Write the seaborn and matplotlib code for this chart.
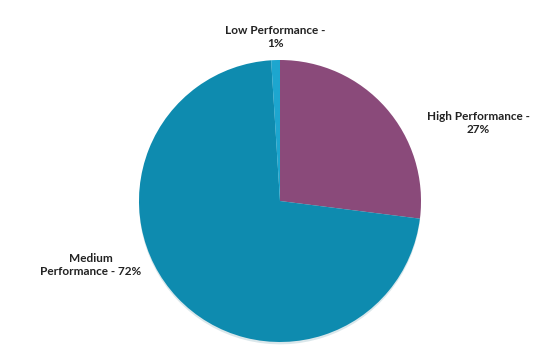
import matplotlib
matplotlib.use("Agg")
import matplotlib.pyplot as plt
import seaborn as sns

categories = ["High Performance", "Medium Performance", "Low Performance"]
values = [27, 72, 1]
label_texts = ["High Performance -\n27%", "Medium\nPerformance - 72%", "Low Performance -\n1%"]
colors = ["#8A4A7A", "#0E8BAF", "#1DA6CF"]

sns.set_theme(style="white")
plt.rcParams['font.family'] = ['Lato', 'DejaVu Sans']

fig = plt.figure(figsize=(5.5, 3.54), dpi=100)
ax = fig.add_axes([139/550, 12/354, 282/550, 282/354])
wedges, texts = ax.pie(values, colors=colors, startangle=90, counterclock=False,
                       labels=label_texts, radius=1.0,
                       wedgeprops=dict(linewidth=0),
                       shadow=dict(ox=0.0, oy=-0.012, shade=0.3, alpha=0.15),
                       textprops=dict(fontsize=8.5, fontweight='bold', color='#222222',
                                      ha='center', va='center', multialignment='center',
                                      linespacing=1.3))
pos = [(1.404, 0.553), (-1.34, -0.454), (-0.035, 1.163)]
for t, p in zip(texts, pos):
    t.set_position(p)
    t.set_ha('center')
    t.set_clip_on(False)
ax.set_xlim(-1, 1)
ax.set_ylim(-1, 1)
ax.set_aspect('equal')
ax.axis('off')
fig.savefig("out.png", dpi=100)
